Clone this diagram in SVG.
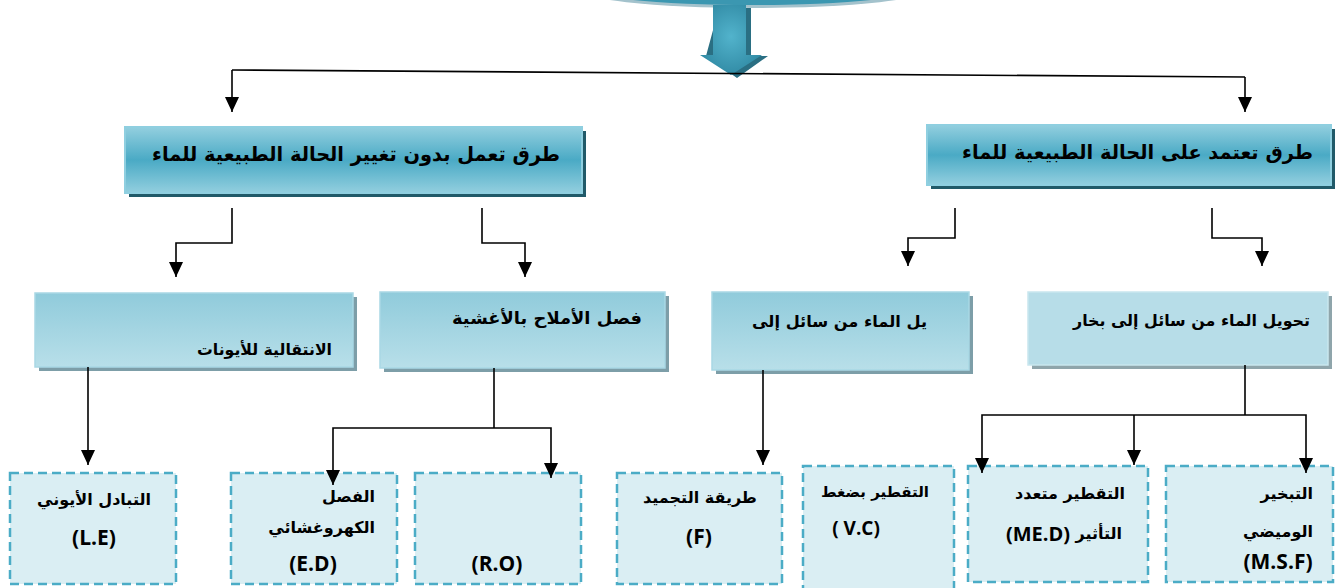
<svg xmlns="http://www.w3.org/2000/svg" width="1336" height="588" viewBox="0 0 1336 588">
<defs>
<style>
.ar{font-family:"DejaVu Sans","Noto Sans",sans-serif;font-weight:bold;fill:#000}
.lt{font-family:"Open Sans","DejaVu Sans",sans-serif;font-weight:bold;fill:#000}
.con{fill:none;stroke:#000;stroke-width:1.6}
.dash{fill:#daeef3;stroke:#4bacc6;stroke-width:2.5;stroke-dasharray:9,5}
.hdr{fill:url(#gHdr);stroke:#8fcfe0;stroke-width:2}
.mid{fill:url(#gMid);stroke:#a9d8e5;stroke-width:1.5}
</style>
<linearGradient id="gHdr" x1="0" y1="0" x2="0" y2="1">
<stop offset="0" stop-color="#93cfdf"/>
<stop offset="0.5" stop-color="#4aaac5"/>
<stop offset="1" stop-color="#93cfdf"/>
</linearGradient>
<linearGradient id="gMid" x1="0" y1="0" x2="0" y2="1">
<stop offset="0" stop-color="#90cbdb"/>
<stop offset="1" stop-color="#b8dfe9"/>
</linearGradient>
<radialGradient id="gArrow" cx="0.5" cy="0.45" r="0.6">
<stop offset="0" stop-color="#52b3cc"/>
<stop offset="1" stop-color="#2f88a2"/>
</radialGradient>
<marker id="ah" viewBox="0 0 15 14" refX="15" refY="7" markerWidth="15" markerHeight="14" markerUnits="userSpaceOnUse" orient="auto">
<path d="M0,0 L15,7 L0,14 z" fill="#000"/>
</marker>
</defs>
<rect width="1336" height="588" fill="#fff"/>

<g id="top">
<ellipse cx="753" cy="-12" rx="179" ry="20" fill="#a3c2cc"/>
<ellipse cx="752" cy="-13" rx="172" ry="18" fill="#3b97b1"/>
<path d="M719,8 H751 V56 H768 L737,78 L706,56 Z" fill="#2a6f83"/>
<path d="M713,5 H746 V55 H762 L731,75 L700,55 H713 Z" fill="url(#gArrow)"/>
</g>

<g id="hdrLeft">
<rect x="129" y="131" width="457" height="66" fill="#215a69"/>
<rect class="hdr" x="125" y="127" width="457" height="66"/>
<text class="ar" x="356" y="161" font-size="20" text-anchor="middle" textLength="408" lengthAdjust="spacingAndGlyphs">طرق تعمل بدون تغيير الحالة الطبيعية للماء</text>
</g>

<g id="hdrRight">
<rect x="931" y="129" width="404" height="60" fill="#215a69"/>
<rect class="hdr" x="927" y="125" width="404" height="60"/>
<text class="ar" x="1313" y="159" font-size="19.5" text-anchor="end" textLength="351" lengthAdjust="spacingAndGlyphs">طرق تعتمد على الحالة الطبيعية للماء</text>
</g>

<g id="midA">
<rect x="39" y="297" width="318" height="74" fill="#7d9ea8"/>
<rect class="mid" x="35" y="293" width="318" height="74"/>
<text class="ar" x="332" y="355" font-size="16" text-anchor="end" textLength="135" lengthAdjust="spacingAndGlyphs">الانتقالية للأيونات</text>
</g>

<g id="midB">
<rect x="384" y="296" width="285" height="76" fill="#7d9ea8"/>
<rect class="mid" x="380" y="292" width="285" height="76"/>
<text class="ar" x="642" y="324" font-size="17" text-anchor="end" textLength="190" lengthAdjust="spacingAndGlyphs">فصل الأملاح بالأغشية</text>
</g>

<g id="midC">
<rect x="716" y="296" width="257" height="78" fill="#7d9ea8"/>
<rect class="mid" x="712" y="292" width="257" height="78"/>
<text class="ar" x="927" y="327" font-size="16" text-anchor="end" textLength="175" lengthAdjust="spacingAndGlyphs">يل الماء من سائل إلى</text>
</g>

<g id="midD">
<rect x="1032" y="296" width="300" height="73" fill="#8fa5ab"/>
<rect x="1028" y="292" width="300" height="73" fill="#b7dde8" stroke="#c9e6ee" stroke-width="1.5"/>
<text class="ar" x="1310" y="326" font-size="16" text-anchor="end" textLength="237" lengthAdjust="spacingAndGlyphs">تحويل الماء من سائل إلى بخار</text>
</g>

<g id="boxLE">
<rect class="dash" x="10" y="473" width="166" height="111"/>
<text class="ar" x="94" y="505" font-size="16" text-anchor="middle">التبادل الأيوني</text>
<text class="lt" x="94" y="545" font-size="21" text-anchor="middle">(L.E)</text>
</g>

<g id="boxED">
<rect class="dash" x="231" y="473" width="166" height="111"/>
<text class="ar" x="375" y="502" font-size="16" text-anchor="end">الفصل</text>
<text class="ar" x="375" y="533" font-size="16" text-anchor="end">الكهروغشائي</text>
<text class="lt" x="313" y="571" font-size="21" text-anchor="middle">(E.D)</text>
</g>

<g id="boxRO">
<rect class="dash" x="415" y="473" width="166" height="111"/>
<text class="lt" x="497" y="571" font-size="21" text-anchor="middle">(R.O)</text>
</g>

<g id="boxF">
<rect class="dash" x="617" y="473" width="165" height="111"/>
<text class="ar" x="700" y="503" font-size="16" text-anchor="middle">طريقة التجميد</text>
<text class="lt" x="699" y="544" font-size="21" text-anchor="middle">(F)</text>
</g>

<g id="boxVC">
<rect class="dash" x="803" y="466" width="151" height="130"/>
<text class="ar" x="875" y="497" font-size="15" text-anchor="middle">التقطير بضغط</text>
<text class="lt" x="856" y="535" font-size="19" text-anchor="middle">( V.C)</text>
</g>

<g id="boxMED">
<rect class="dash" x="968" y="466" width="180" height="116"/>
<text class="ar" x="1070" y="499" font-size="16" text-anchor="middle">التقطير متعدد</text>
<text class="ar" x="1122" y="539" font-size="16" text-anchor="end">التأثير</text>
<text class="lt" x="1070" y="541" font-size="20" text-anchor="end">(ME.D)</text>
</g>

<g id="boxMSF">
<rect class="dash" x="1166" y="466" width="167" height="116"/>
<text class="ar" x="1313" y="499" font-size="16" text-anchor="end">التبخير</text>
<text class="ar" x="1313" y="537" font-size="16" text-anchor="end">الوميضي</text>
<text class="lt" x="1278" y="569" font-size="21" text-anchor="middle">(M.S.F)</text>
</g>

<g id="connectors">
<path class="con" d="M232,70 L1245,77"/>
<path class="con" d="M232,70 V112" marker-end="url(#ah)"/>
<path class="con" d="M1245,77 V112" marker-end="url(#ah)"/>
<path class="con" d="M232,208 V243 H176 V277" marker-end="url(#ah)"/>
<path class="con" d="M482,208 V243 H525 V277" marker-end="url(#ah)"/>
<path class="con" d="M955,208 V238 H908 V266" marker-end="url(#ah)"/>
<path class="con" d="M1212,208 V238 H1262 V266" marker-end="url(#ah)"/>
<path class="con" d="M88,367 V465" marker-end="url(#ah)"/>
<path class="con" d="M494,368 V428"/>
<path class="con" d="M494,428 H333 V485" marker-end="url(#ah)"/>
<path class="con" d="M494,428 H551 V478" marker-end="url(#ah)"/>
<path class="con" d="M763,370 V465" marker-end="url(#ah)"/>
<path class="con" d="M1245,365 V415"/>
<path class="con" d="M1245,415 H982 V473" marker-end="url(#ah)"/>
<path class="con" d="M1134,415 V465" marker-end="url(#ah)"/>
<path class="con" d="M1245,415 H1306 V473" marker-end="url(#ah)"/>
</g>
</svg>
